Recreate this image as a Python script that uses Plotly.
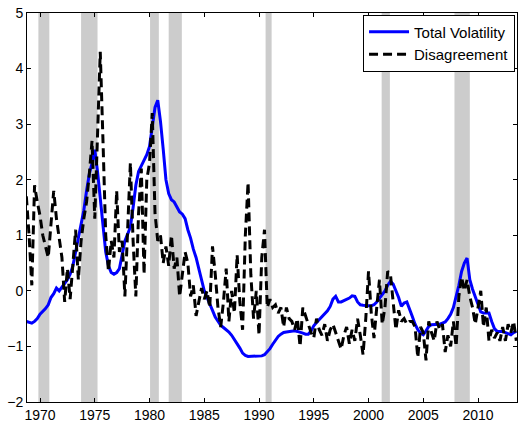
import plotly.graph_objects as go

start_year = 1968.75
quarter = 0.25

total_volatility = [
    -0.55,
    -0.57, -0.58, -0.55, -0.50,
    -0.42, -0.37, -0.32, -0.25,
    -0.12, -0.05, 0.05, 0.00,
    0.07, 0.12, 0.20, 0.30,
    0.45, 0.70, 0.95, 1.20,
    1.45, 1.80, 2.10, 2.30,
    2.54, 2.15, 1.70, 1.15,
    0.70, 0.45, 0.33, 0.30,
    0.33, 0.40, 0.62, 0.90,
    1.02, 1.15, 1.50, 1.90,
    2.15, 2.25, 2.35, 2.45,
    2.60, 3.00, 3.30, 3.43,
    3.05, 2.55, 2.00, 1.75,
    1.64, 1.60, 1.50, 1.42,
    1.38, 1.30, 1.10, 0.95,
    0.75, 0.60, 0.40, 0.20,
    0.00, -0.12, -0.22, -0.35,
    -0.47, -0.55, -0.62, -0.66,
    -0.70, -0.74, -0.80, -0.87,
    -0.94, -1.03, -1.12, -1.16,
    -1.18, -1.18, -1.18, -1.18,
    -1.18, -1.17, -1.15, -1.10,
    -1.04, -0.96, -0.88, -0.82,
    -0.78, -0.75, -0.74, -0.73,
    -0.73, -0.72, -0.73, -0.74,
    -0.76, -0.78, -0.78, -0.72,
    -0.63, -0.57, -0.52, -0.47,
    -0.42, -0.36, -0.28, -0.15,
    -0.10, -0.20, -0.20, -0.18,
    -0.16, -0.13, -0.09, -0.10,
    -0.20, -0.25, -0.26, -0.27,
    -0.27, -0.27, -0.25, -0.20,
    -0.13, -0.08, 0.00, 0.10,
    0.17, 0.12, 0.00, -0.12,
    -0.28, -0.22, -0.20, -0.35,
    -0.46, -0.60, -0.70, -0.76,
    -0.79, -0.72, -0.64, -0.61,
    -0.61, -0.60, -0.60, -0.58,
    -0.56, -0.50, -0.42, -0.30,
    -0.12, 0.10, 0.35, 0.50,
    0.59, 0.20, 0.03, -0.12,
    -0.25, -0.38, -0.40, -0.40,
    -0.40, -0.55, -0.68, -0.73,
    -0.73, -0.73, -0.75, -0.77,
    -0.79, -0.75, -0.73,
]

disagreement = [
    1.70,
    1.00, 0.10, 1.90, 1.60,
    1.35, 1.00, 0.80, 0.60,
    1.20, 1.80, 1.30, 0.90,
    0.60, -0.20, 0.40, -0.15,
    0.50, 1.10, 0.20, 0.90,
    1.30, 1.60, 2.10, 2.70,
    1.30, 2.80, 4.30, 2.70,
    1.00, 0.35, 0.90, 0.60,
    1.80, 0.70, 0.90, -0.10,
    1.00, 2.30, 0.90, -0.10,
    1.40, 2.20, 0.30, 2.00,
    2.30, 3.20, 1.40, 0.90,
    1.00, 0.50, 0.80, 0.45,
    1.00, 0.40, 0.60, -0.10,
    0.30, 0.70, 0.50, -0.10,
    0.10, -0.45, -0.20, 0.05,
    -0.15, 0.00, -0.30, 0.80,
    0.30, -0.30, -0.65, -0.20,
    0.40, -0.55, 0.00, -0.40,
    0.65, -0.20, -0.70, 1.00,
    1.95, 0.30, -0.50, 0.00,
    -0.80, 0.60, 1.10, -0.30,
    -0.15, -0.30, -0.25, -0.40,
    -0.30, -0.65, -0.30, -0.50,
    -0.55, -0.70, -0.50, -1.00,
    -0.30, -0.45, -0.60, -0.75,
    -0.85, -0.50, -0.70, -0.80,
    -0.60, -0.90, -0.70, -0.60,
    -0.75, -0.90, -1.05, -0.80,
    -0.65, -0.95, -0.70, -0.90,
    -0.50, -0.80, -1.15, -0.50,
    0.35, -0.40, -0.85, -0.30,
    0.20, -0.60, -0.30, 0.35,
    0.30, -0.20, -0.70, -0.35,
    -0.55, -0.50, -0.60, -0.55,
    -0.55, -0.65, -1.20, -0.65,
    -0.75, -1.25, -0.55, -0.75,
    -0.90, -0.55, -0.70, -0.60,
    -1.10, -0.80, -1.00, -0.55,
    -1.00, -0.10, 0.25, 0.00,
    0.20, -0.10, -0.30, -0.60,
    -0.30, 0.00, -0.65, -0.30,
    -0.90, -0.70, -0.85, -0.75,
    -0.90, -0.65, -0.90, -0.60,
    -0.75, -0.55, -0.90,
]

dates = [start_year + quarter * i for i in range(len(total_volatility))]

recession_starts = [1969.85, 1973.75, 1980.05, 1981.75, 1990.6, 2001.2, 2007.85]
recession_ends = [1970.85, 1975.25, 1980.85, 1982.95, 1991.15, 2001.95, 2009.25]

x_ticks = [1970, 1975, 1980, 1985, 1990, 1995, 2000, 2005, 2010]
y_ticks = [-2, -1, 0, 1, 2, 3, 4, 5]

fig = go.Figure()

fig.add_trace(go.Scatter(
    x=dates, y=total_volatility, mode="lines", name="Total Volatility",
    line=dict(color="rgb(0,0,255)", width=3),
))
fig.add_trace(go.Scatter(
    x=dates, y=disagreement, mode="lines", name="Disagreement",
    line=dict(color="black", width=3, dash="9px,5px"),
))

for s, e in zip(recession_starts, recession_ends):
    fig.add_shape(type="rect", xref="x", yref="paper", x0=s, x1=e, y0=0, y1=1,
                  fillcolor="rgb(204,204,204)", line=dict(width=0), layer="below")

axis_common = dict(
    showline=True, linecolor="black", linewidth=1, mirror="ticks",
    ticks="inside", ticklen=4, tickcolor="black", showgrid=False, zeroline=False,
    tickfont=dict(family="Liberation Sans, Arial, sans-serif", size=14, color="black"),
)

fig.update_layout(
    width=518, height=428,
    margin=dict(l=27, r=1, t=13, b=26),
    paper_bgcolor="white", plot_bgcolor="white",
    showlegend=True,
    legend=dict(
        x=0.996, y=0.996, xanchor="right", yanchor="top",
        bgcolor="white", bordercolor="black", borderwidth=1,
        font=dict(family="Liberation Sans, Arial, sans-serif", size=15, color="black"),
        tracegroupgap=0, itemwidth=40,
    ),
    xaxis=dict(range=[1968.81, 2013.56], tickvals=x_ticks, **axis_common),
    yaxis=dict(range=[-2, 5], tickvals=y_ticks, **axis_common),
)

fig.write_html("out.html", config={"displayModeBar": False},
               post_script="document.body.style.margin='0';")
